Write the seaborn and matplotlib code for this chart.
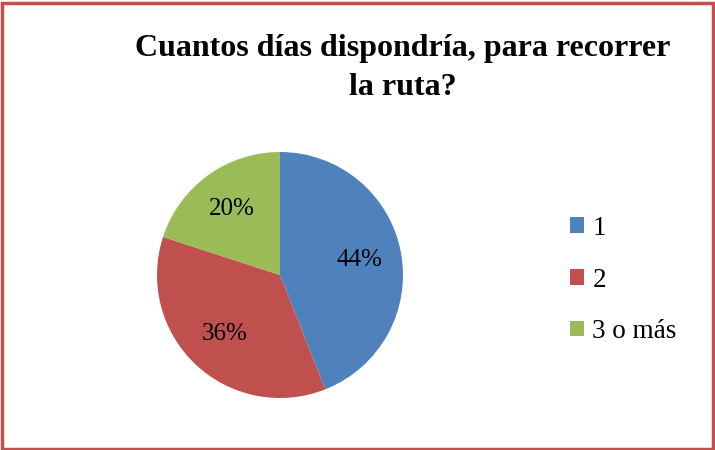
import matplotlib
matplotlib.use("Agg")
import matplotlib.pyplot as plt
import seaborn as sns
from matplotlib.patches import Rectangle

title = "Cuantos días dispondría, para recorrer\nla ruta?"
categories = ["1", "2", "3 o más"]
values = [44, 36, 20]
colors = ["#4F81BD", "#C0504D", "#9BBB59"]

sns.set_theme(style="white")
plt.rcParams["font.family"] = ["Liberation Serif", "DejaVu Serif"]
plt.rcParams["text.color"] = "black"

W, H = 715, 450
fig = plt.figure(figsize=(W / 100, H / 100), dpi=100)
fig.patch.set_facecolor("white")

cx, cy, r = 280, 275, 123
ax = fig.add_axes([(cx - r) / W, (H - cy - r) / H, 2 * r / W, 2 * r / H])
wedges, texts, autotexts = ax.pie(
    values, colors=colors, startangle=90, counterclock=False,
    autopct=lambda p: f"{p:.0f}%", pctdistance=0.66,
    wedgeprops=dict(linewidth=0), radius=1,
    textprops=dict(fontsize=18, color="black"),
)
ax.set_xlim(-1, 1)
ax.set_ylim(-1, 1)
ax.set_aspect("equal")
ax.axis("off")

fig.text(403 / W, 1 - 68 / H, title, ha="center", va="center", color="black",
         fontsize=23, fontweight="bold", linespacing=1.45)

leg = fig.legend(wedges, categories, loc="upper left",
                 bbox_to_anchor=(570 / W, 1 - 216 / H), frameon=False,
                 fontsize=19.5, handlelength=0.53, handleheight=0.53,
                 handletextpad=0.3, labelspacing=0.98, borderpad=0,
                 borderaxespad=0, labelcolor="black")

fig.patches.append(Rectangle((1.5 / W, 1.5 / H), (W - 4) / W, (H - 4) / H,
                             transform=fig.transFigure, fill=False,
                             edgecolor="#C0504D", linewidth=2.5))

fig.savefig("out.png", dpi=100)
